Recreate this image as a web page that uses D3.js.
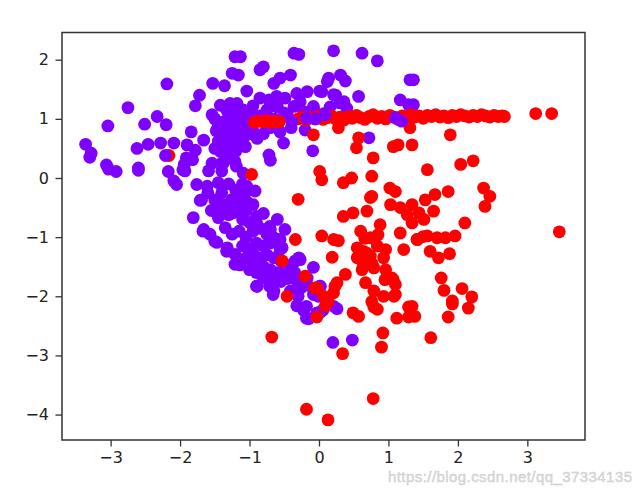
<!DOCTYPE html>
<html><head><meta charset="utf-8">
<script src="https://cdn.jsdelivr.net/npm/d3@7"></script>
<style>html,body{margin:0;padding:0;background:#fff;}svg{display:block;}</style>
</head><body>
<svg id="chart" width="641" height="491"></svg>
<script>
// ---- data ----
const xTicks = [-3, -2, -1, 0, 1, 2, 3];
const yTicks = [-4, -3, -2, -1, 0, 1, 2];

// class 0 (purple), drawn first
const purplePoints = [
  [-3.36,0.57],[-3.28,0.42],[-3.30,0.35],[-3.06,0.22],[-2.92,0.11],[-3.03,0.15],[-2.60,0.17],[-2.60,0.13],
  [-3.04,0.88],[-2.75,1.19],[-2.19,1.59],[-2.62,0.50],[-2.46,0.57],[-2.28,0.59],[-2.09,0.59],[-2.51,0.91],
  [-2.33,1.04],[-2.20,0.90],[-2.17,0.11],[-2.09,-0.05],[-2.05,-0.11],[-1.96,0.14],[-1.91,0.34],
  [-1.84,0.78],[-1.66,0.64],[-1.90,0.56],[-1.78,0.47],[-1.82,0.31],[-1.94,0.23],[-1.78,1.22],[-1.72,1.40],
  [-1.53,1.60],[-1.36,1.56],[-1.21,2.05],[-1.25,1.77],[-1.42,1.23],[-1.28,1.26],[-1.54,1.07],[-1.54,0.25],
  [-1.40,0.25],[-1.21,0.28],[-1.59,0.12],[-1.40,0.12],[-1.93,0.12],[-1.09,0.08],[-1.19,0.20],[-1.38,0.25],
  [-1.50,1.00],[-1.45,0.90],[-1.38,0.95],[-1.30,1.05],[-1.25,0.92],[-1.20,0.85],[-1.48,0.80],[-1.40,0.75],
  [-1.32,0.80],[-1.25,0.70],[-1.45,0.62],[-1.36,0.58],[-1.28,0.55],[-1.20,0.60],[-1.50,0.50],[-1.42,0.45],
  [-1.33,1.15],[-1.22,1.10],[-1.15,1.00],[-1.10,0.90],[-1.15,0.75],[-1.10,0.65],[-1.05,0.80],[-1.30,0.40],[-1.20,0.45],
  [-1.13,2.05],[-0.36,2.11],[-0.29,2.09],[0.21,2.15],[0.62,2.11],[0.84,1.98],[1.31,1.66],[-0.80,1.88],
  [-0.85,1.83],[-1.16,1.74],[-0.41,1.74],[-0.56,1.69],[-0.65,1.60],[0.14,1.69],[0.31,1.74],[0.38,1.64],
  [-1.04,1.47],[-0.85,1.35],[-0.72,1.32],[-0.61,1.38],[-0.49,1.35],[-0.32,1.43],[-0.17,1.46],[-0.27,1.29],
  [0.04,1.46],[0.12,1.63],[0.24,1.40],[0.36,1.29],[0.57,1.38],[1.17,1.32],[1.29,1.24],[-1.18,1.26],
  [-1.09,1.15],[-0.97,1.09],[-1.13,1.01],[-0.36,1.21],[-0.22,1.12],[-0.08,1.18],[0.07,1.09],[-1.18,0.78],
  [-1.04,0.73],[-0.89,0.67],[-0.80,0.75],[-0.56,0.78],[-0.51,0.59],[-1.13,0.61],[-1.06,0.53],[-0.72,0.39],
  [-0.70,0.30],[-0.20,0.81],[-0.09,0.46],[0.72,0.68],[1.36,1.66],[1.36,1.24],[0.01,1.47],[0.21,1.41],
  [0.30,1.27],[0.40,1.18],[-0.08,1.21],[0.16,1.20],[-0.95,1.22],[-0.75,1.15],[-0.60,1.20],[-0.50,1.10],
  [-0.85,1.05],[-0.65,1.00],[-0.45,1.05],[-1.00,0.95],[-0.95,0.80],[-0.70,0.85],[-0.40,0.85],
  [-1.76,-0.11],[-1.61,-0.14],[-1.45,-0.08],[-1.40,-0.25],[-1.71,-0.38],[-1.49,-0.39],[-1.35,-0.45],
  [-1.25,-0.36],[-1.81,-0.67],[-1.66,-0.87],[-1.57,-0.95],[-1.47,-1.09],[-1.45,-0.67],[-1.30,-0.62],
  [-1.35,-0.84],[-1.25,-0.95],[-1.32,-1.18],[-1.21,-1.29],[-1.21,-1.46],[-1.06,-0.25],[-0.92,-0.22],
  [-1.09,-0.39],[-1.04,-0.14],[-1.14,-0.31],[-1.04,-0.40],[-1.33,-0.48],[-1.43,-0.59],[-1.24,-0.59],
  [-1.69,-0.37],[-1.50,-0.37],[-0.90,-0.76],[-0.71,-0.82],[-0.49,-0.87],[-0.53,-1.18],[-0.34,-1.40],
  [-0.29,-1.35],[-0.08,-1.51],[-0.70,-0.87],[-0.65,-1.01],[-0.17,-1.69],[0.02,-1.83],[-0.08,-1.97],
  [-0.32,-1.74],[-0.41,-1.91],[-0.65,-1.91],[-0.89,-1.83],[-0.80,-1.69],[-1.67,-0.90],[-1.50,-1.07],
  [-1.33,-1.24],[-1.14,-1.47],[-0.95,-1.27],[-0.90,-1.83],[-0.71,-1.83],[-0.66,-1.97],[-0.56,-1.04],
  [-0.56,-1.21],[-0.37,-1.44],[-0.27,-1.38],[-0.18,-1.78],[-0.08,-1.89],[0.01,-1.83],[-0.01,-2.00],
  [-0.18,-2.17],[-0.18,-2.37],[-0.03,-2.28],[0.06,-2.23],[0.21,-2.17],[0.26,-2.21],[0.02,-2.27],
  [-0.15,-2.38],[-0.22,-2.24],[-0.32,-2.16],[0.20,-2.78],[0.48,-2.74],
  [-1.15,-0.50],[-1.05,-0.55],[-0.95,-0.45],[-1.10,-0.70],[-1.00,-0.75],[-0.90,-0.65],[-0.80,-0.60],
  [-1.15,-0.90],[-1.05,-1.00],[-0.95,-0.90],[-0.85,-0.85],[-0.75,-0.95],[-1.10,-1.15],[-1.00,-1.20],
  [-0.90,-1.10],[-0.80,-1.15],[-0.70,-1.10],[-1.05,-1.35],[-0.95,-1.45],[-0.85,-1.35],[-0.75,-1.30],
  [-0.65,-1.35],[-0.55,-1.40],[-1.00,-1.55],[-0.90,-1.60],[-0.80,-1.50],[-0.70,-1.55],[-0.60,-1.60],
  [-0.50,-1.55],[-0.45,-1.70],[-0.55,-1.75],[-0.70,-1.70],[-0.35,-1.60],[-0.25,-1.85],[-0.30,-2.00],
  [-1.40,-0.50],[-1.55,-0.55],[-1.20,-0.20],[-1.30,-0.10],[-1.10,-0.10],[-1.60,-0.25],[-0.60,-0.70]
];

// class 1 (red)
const redPoints = [
  [-0.93,0.94],[-0.87,0.96],[-0.81,0.95],[-0.75,0.97],[-0.69,0.94],[-0.63,0.96],[-0.57,0.95],
  [-0.30,1.00],[-0.24,1.03],[-0.18,0.98],[-0.12,1.02],[-0.06,1.00],[0.00,1.04],[0.06,0.99],[0.12,1.02],
  [0.18,1.05],[0.24,1.00],[0.30,1.03],[0.36,0.98],[0.42,1.04],[0.48,1.01],[0.54,1.06],[0.60,1.02],
  [0.66,0.99],[0.72,1.04],[0.78,1.07],[0.84,1.01],[0.90,1.04],[0.96,1.00],[1.02,1.06],[1.08,1.03],
  [1.14,0.99],[1.20,1.05],[1.26,1.02],[1.32,1.07],[1.38,1.03],[1.44,1.05],[1.50,1.01],[1.56,1.06],
  [1.62,1.04],[1.68,1.07],[1.74,1.03],[1.80,1.05],[1.86,1.02],[1.92,1.06],[1.98,1.04],[2.04,1.07],
  [2.10,1.05],[2.16,1.03],[2.22,1.06],[2.28,1.04],[2.34,1.07],[2.40,1.05],[2.46,1.03],[2.52,1.06],
  [2.58,1.04],[2.64,1.05],[2.67,1.04],[3.12,1.09],[3.35,1.09],
  [-2.16,0.38],[-0.97,0.06],[-0.30,-0.36],[-0.08,0.73],[0.28,0.85],[0.57,0.68],[0.54,0.51],[0.78,0.34],
  [1.07,0.53],[1.14,0.56],[1.34,0.56],[1.89,0.73],[1.31,0.85],[0.01,0.11],[0.04,-0.03],[0.35,-0.08],
  [0.47,0.00],[0.76,0.03],[1.56,0.14],[2.04,0.23],[2.22,0.29],
  [0.35,-0.65],[0.49,-0.59],[0.69,-0.56],[0.76,-0.31],[1.02,-0.17],[1.10,-0.23],[1.53,-0.37],[1.67,-0.28],
  [1.65,-0.56],[1.86,-0.23],[2.37,-0.17],[2.46,-0.31],[2.39,-0.48],[2.10,-0.76],[3.46,-0.91],
  [0.74,-0.33],[1.03,-0.45],[1.17,-0.50],[1.27,-0.62],[0.88,-0.79],[0.60,-0.90],[0.74,-1.01],[1.17,-0.93],
  [-0.34,-1.04],[0.04,-0.98],[0.21,-1.04],[0.28,-1.06],[0.55,-1.18],[0.64,-1.24],[0.84,-1.15],[0.96,-1.21],
  [0.93,-1.35],[0.74,-1.32],[1.22,-1.21],[0.19,-1.34],[-0.53,-1.40],[0.55,-1.35],[0.64,-1.46],[0.79,-1.52],
  [0.96,-1.55],[1.05,-1.69],[1.10,-1.80],[0.38,-1.63],[0.67,-1.77],[0.79,-1.91],[0.93,-2.00],[0.26,-1.77],
  [0.21,-1.94],[-0.03,-1.86],[0.07,-2.00],[-0.20,-1.66],[-0.46,-2.00],[1.08,-2.00],
  [1.34,-0.45],[1.44,-0.59],[1.51,-0.70],[1.42,-1.04],[1.56,-0.98],[1.70,-1.01],[1.82,-1.01],[1.96,-0.98],
  [1.60,-1.24],[1.72,-1.35],[1.88,-1.28],[1.76,-1.69],[1.80,-1.90],[2.06,-1.87],[2.20,-2.01],[1.92,-2.08],
  [0.66,-1.02],[0.85,-0.96],[0.69,-1.27],[0.76,-1.44],[0.62,-1.55],[0.95,-1.72],[1.07,-1.72],[1.10,-1.97],
  [0.76,-2.09],[0.84,-2.22],[0.49,-2.28],[0.57,-2.34],[1.12,-2.37],[1.34,-0.76],[1.41,-1.04],[1.50,-0.99],
  [1.34,-2.17],[1.38,-2.34],[2.15,-2.20],[1.86,-2.35],[1.61,-2.70],[0.92,-2.62],[0.90,-2.86],[0.34,-2.97],
  [0.78,-3.73],[-0.18,-3.91],[0.13,-4.09],[0.23,-1.83],[0.13,-2.09],[0.79,-2.18],[1.29,-2.18],[1.29,-2.35],
  [-0.68,-2.69],[-0.03,-2.35],[0.09,-2.16],[1.92,-2.13],[-0.06,-1.86]
];

// class 0 (purple) points that lie on top of red ones in the picture
const purpleTopPoints = [
  [-2.21,0.38],[-0.39,0.95],[-0.18,1.01],[-0.05,1.00],[0.09,1.07],[1.10,1.02],[1.19,0.96]
];

const purpleColor = "#8000ff";
const redColor = "#ff0000";

// ---- chart ----
const svg = d3.select("#chart");
const plot = { left: 62, right: 585, top: 32.5, bottom: 440 };

const x = d3.scaleLinear().domain([-3.70, 3.83]).range([plot.left, plot.right]);
const y = d3.scaleLinear().domain([-4.43, 2.46]).range([plot.bottom, plot.top]);

svg.append("rect").attr("width", 641).attr("height", 491).attr("fill", "#fff");

svg.append("clipPath").attr("id", "clip")
  .append("rect")
  .attr("x", plot.left).attr("y", plot.top)
  .attr("width", plot.right - plot.left).attr("height", plot.bottom - plot.top);

const layers = [
  { data: purplePoints, color: purpleColor },
  { data: redPoints, color: redColor },
  { data: purpleTopPoints, color: purpleColor }
];

const g = svg.append("g").attr("clip-path", "url(#clip)");
layers.forEach(layer => {
  g.append("g").selectAll("circle")
    .data(layer.data)
    .join("circle")
    .attr("cx", d => x(d[0]))
    .attr("cy", d => y(d[1]))
    .attr("r", 6.4)
    .attr("fill", layer.color);
});

const fmt = d => d < 0 ? "\u2212" + Math.abs(d) : String(d);

const xAxis = svg.append("g")
  .attr("transform", `translate(0,${plot.bottom})`)
  .call(d3.axisBottom(x).tickValues(xTicks).tickFormat(fmt).tickSize(6.5).tickPadding(5));
const yAxis = svg.append("g")
  .attr("transform", `translate(${plot.left},0)`)
  .call(d3.axisLeft(y).tickValues(yTicks).tickFormat(fmt).tickSize(6.5).tickPadding(6.5));

[xAxis, yAxis].forEach(a => {
  a.select(".domain").remove();
  a.selectAll(".tick line").attr("stroke", "#333").attr("stroke-width", 1.3);
  a.selectAll(".tick text")
    .attr("fill", "#222")
    .style("font-family", "'DejaVu Sans', sans-serif")
    .style("font-size", "16px");
});

svg.append("rect")
  .attr("x", plot.left).attr("y", plot.top)
  .attr("width", plot.right - plot.left).attr("height", plot.bottom - plot.top)
  .attr("fill", "none").attr("stroke", "#333").attr("stroke-width", 1.5);

// watermark
svg.append("text")
  .attr("x", 632).attr("y", 482)
  .attr("text-anchor", "end")
  .attr("textLength", 244)
  .style("font-family", "'Liberation Sans', Arial, sans-serif")
  .style("font-size", "15px")
  .attr("fill", "#d4d4d4")
  .attr("stroke", "#c4c4c4").attr("stroke-width", 0.4)
  .attr("opacity", 0.85)
  .text("https://blog.csdn.net/qq_37334135");
</script>
</body></html>
